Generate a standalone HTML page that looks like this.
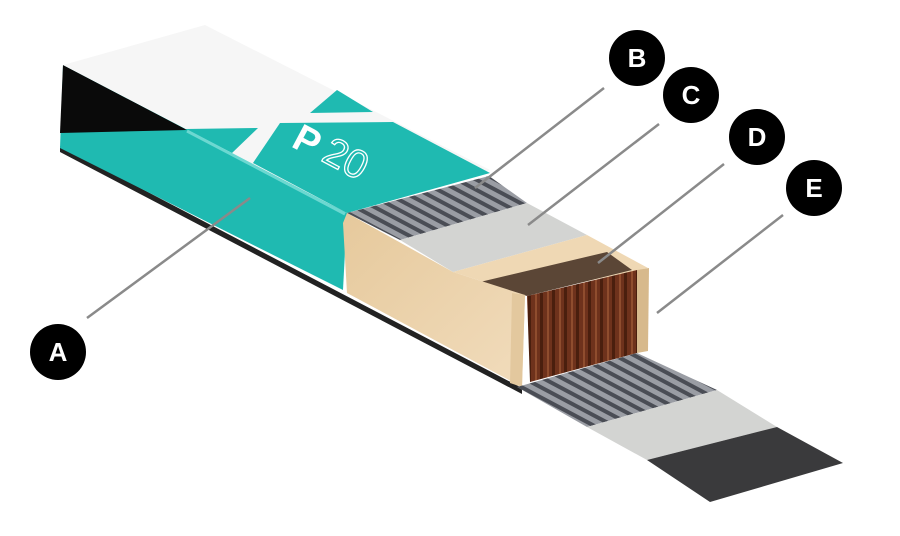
<!DOCTYPE html>
<html><head><meta charset="utf-8"><style>
html,body{margin:0;padding:0;background:#fff;width:900px;height:536px;overflow:hidden}
svg{display:block}
</style></head><body>
<svg width="900" height="536" viewBox="0 0 900 536" xmlns="http://www.w3.org/2000/svg">
<defs>
<pattern id="corr" width="9" height="9" patternUnits="userSpaceOnUse" patternTransform="rotate(-62)">
<rect width="9" height="9" fill="#9a9da4"/><rect width="4" height="9" fill="#4a4d55"/>
</pattern>
<linearGradient id="wood" x1="0" y1="0" x2="1" y2="1">
<stop offset="0" stop-color="#e6c99c"/><stop offset="1" stop-color="#f1dcbc"/>
</linearGradient>
<pattern id="core" width="12" height="10" patternUnits="userSpaceOnUse">
<rect width="12" height="10" fill="#6e321c"/><rect x="0" width="3" height="10" fill="#4a1f0e"/><rect x="7" width="2" height="10" fill="#8f4d2e"/>
</pattern>
</defs>
<!-- bottom dark edge -->
<polygon points="60,146 522,388 522,394 60,152" fill="#222"/>
<!-- side face teal -->
<polygon points="63,65 347,213 343,290 60,148" fill="#1fbab1"/>
<!-- black triangle -->
<polygon points="63,65 187,130 60,133" fill="#0a0a0a"/>
<!-- top face white -->
<polygon points="63,65 205,25 490,170 347,213" fill="#f6f6f6"/>
<!-- teal regions on top -->
<polygon points="185,129 258,128 232,153" fill="#1fbab1"/>
<polygon points="310,113 337,90 373,112" fill="#1fbab1"/>
<polygon points="280,123 393,122 490,173 347,213 253,163" fill="#1fbab1"/>
<!-- highlight edge -->
<polyline points="187,131 345,214" stroke="#7fe0da" stroke-width="3" fill="none" opacity="0.8"/>
<text x="290" y="146" font-family="Liberation Sans, sans-serif" font-weight="bold" font-size="38" fill="#fff" transform="rotate(28 290 146)">P</text>
<text x="320" y="160" font-family="Liberation Sans, sans-serif" font-size="40" fill="none" stroke="#fff" stroke-width="1.3" transform="rotate(28 320 160)">20</text>
<!-- B top -->
<polygon points="347,213 489,176 527,203 400,240" fill="url(#corr)"/>
<!-- C top -->
<polygon points="400,240 527,203 587,235 453,272" fill="#d3d4d2"/>
<!-- wood top -->
<polygon points="453,272 587,235 648,268 525,295" fill="#efd8b4"/>
<!-- honeycomb -->
<polygon points="480,282 607,252 632,270 527,296" fill="#5b4636"/>
<!-- wood front -->
<polygon points="343,223 347,213 453,272 525,295 522,387 347,293" fill="url(#wood)"/>
<polygon points="512,293 525,295 522,387 510,383" fill="#e3c89e"/>
<!-- core front -->
<polygon points="527,296 637,270 637,353 530,382" fill="url(#core)"/>
<!-- E particle -->
<polygon points="637,270 649,268 648,351 637,353" fill="#d7b98c"/>
<!-- bottom layers -->
<polygon points="517,387 637,353 717,390 587,427" fill="url(#corr)"/>
<polygon points="587,427 717,390 777,427 647,460" fill="#d3d4d2"/>
<polygon points="647,460 777,427 843,463 710,502" fill="#3a3a3c"/>
<!-- leader lines -->
<g stroke="#8a8a8a" stroke-width="2.5">
<line x1="87" y1="318" x2="250" y2="198"/>
<line x1="604" y1="88" x2="475" y2="188"/>
<line x1="659" y1="124" x2="528" y2="225"/>
<line x1="724" y1="164" x2="598" y2="263"/>
<line x1="783" y1="215" x2="657" y2="313"/>
</g>
<g font-family="Liberation Sans, sans-serif" font-weight="bold" font-size="26" fill="#fff" text-anchor="middle">
<circle cx="58" cy="352" r="28" fill="#000"/><text x="58" y="361">A</text>
<circle cx="637" cy="58" r="28" fill="#000"/><text x="637" y="67">B</text>
<circle cx="691" cy="95" r="28" fill="#000"/><text x="691" y="104">C</text>
<circle cx="757" cy="137" r="28" fill="#000"/><text x="757" y="146">D</text>
<circle cx="814" cy="188" r="28" fill="#000"/><text x="814" y="197">E</text>
</g>
</svg>
</body></html>
